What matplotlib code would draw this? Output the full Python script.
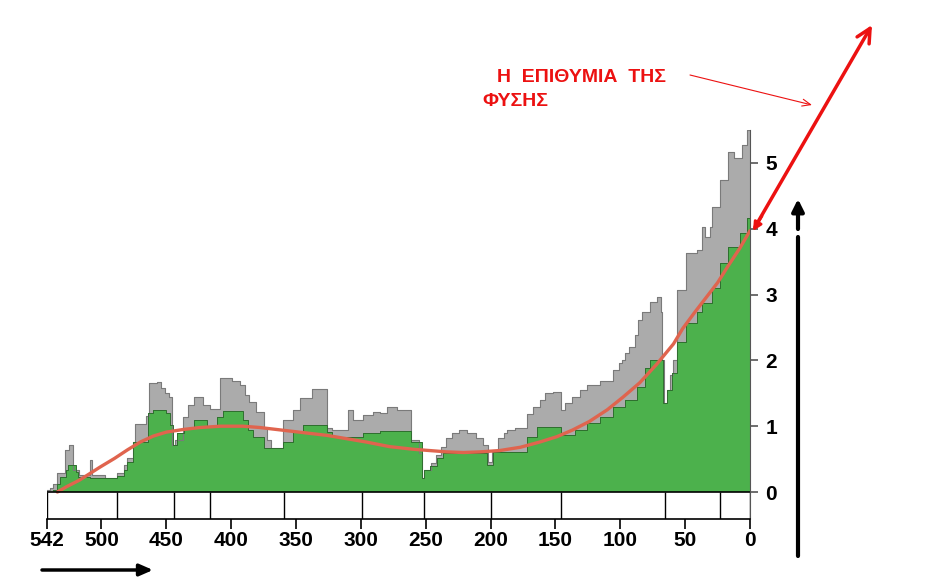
import matplotlib.pyplot as plt

plt.rcParams['font.family'] = ['Liberation Sans', 'DejaVu Sans']

# millions of years ago / value
gray_age = [542, 540, 537, 534, 528, 525, 522, 517, 509, 507, 497, 488, 483, 480, 476, 474,
            466, 463, 457, 454, 451, 448, 446, 443, 437, 433, 429, 422, 416, 409, 399, 393,
            389, 386, 381, 375, 372, 369, 360, 352, 347, 338, 326, 322, 310, 306, 298, 291,
            285, 280, 272, 261, 255, 253, 251, 246, 242, 238, 234, 230, 224, 218, 211, 206,
            202, 199, 194, 190, 187, 181, 172, 167, 162, 158, 152, 146, 143, 137, 131, 126,
            116, 106, 101, 99, 96, 93, 89, 86, 83, 77, 72, 69, 68, 66, 64, 62, 59, 56, 49,
            41, 37, 35, 31, 29, 23, 17, 12, 6, 2, 0]
gray_val = [0.03, 0.06, 0.12, 0.29, 0.64, 0.71, 0.33, 0.26, 0.49, 0.26, 0.21, 0.29, 0.41, 0.52,
            0.76, 1.03, 1.15, 1.66, 1.67, 1.58, 1.50, 1.44, 0.71, 0.79, 1.14, 1.32, 1.44, 1.32,
            1.26, 1.73, 1.69, 1.63, 1.47, 1.37, 1.22, 0.97, 0.79, 0.67, 1.09, 1.25, 1.43, 1.57,
            0.97, 0.94, 1.25, 1.09, 1.17, 1.22, 1.20, 1.29, 1.25, 0.79, 0.59, 0.21, 0.33, 0.44,
            0.56, 0.68, 0.82, 0.90, 0.94, 0.90, 0.82, 0.71, 0.45, 0.64, 0.82, 0.90, 0.94, 0.97,
            1.19, 1.29, 1.40, 1.50, 1.52, 1.25, 1.35, 1.44, 1.55, 1.63, 1.69, 1.85, 1.96, 2.00,
            2.11, 2.20, 2.39, 2.61, 2.74, 2.89, 2.96, 2.74, 2.00, 1.35, 1.55, 1.78, 2.00, 3.07,
            3.63, 3.68, 4.03, 3.88, 4.03, 4.33, 4.74, 5.17, 5.07, 5.27, 5.50, 5.50]

green_age = [537, 534, 532, 527, 526, 520, 518, 509, 488, 483, 480, 476, 464, 460, 450, 447,
             445, 442, 436, 429, 419, 411, 406, 391, 387, 383, 375, 360, 352, 345, 326, 322,
             298, 285, 261, 253, 251, 247, 241, 237, 203, 198, 172, 164, 146, 135, 126, 116,
             106, 96, 87, 81, 77, 67, 64, 60, 56, 49, 41, 37, 29, 23, 17, 8, 2, 0]
green_val = [0.03, 0.12, 0.23, 0.33, 0.41, 0.30, 0.23, 0.21, 0.24, 0.33, 0.46, 0.76, 1.20, 1.25,
             1.20, 1.02, 0.71, 0.90, 0.97, 1.09, 0.99, 1.14, 1.23, 1.09, 0.94, 0.84, 0.67, 0.76,
             0.91, 1.02, 0.91, 0.84, 0.90, 0.92, 0.76, 0.21, 0.33, 0.40, 0.52, 0.59, 0.41, 0.61,
             0.84, 0.99, 0.87, 0.94, 1.05, 1.14, 1.29, 1.40, 1.60, 1.88, 2.00, 1.35, 1.55, 1.81,
             2.28, 2.57, 2.74, 2.87, 3.10, 3.48, 3.72, 3.94, 4.16, 4.16]

trend_age = [534, 527, 517, 509, 501, 490, 480, 470, 460, 450, 437, 424, 408, 391, 378, 365,
             352, 339, 326, 314, 296, 278, 260, 247, 234, 221, 208, 193, 177, 162, 149, 137,
             124, 110, 98, 85, 72, 59, 52, 43, 34, 25, 17, 8, 0]
trend_val = [0.00, 0.08, 0.18, 0.28, 0.38, 0.51, 0.64, 0.76, 0.85, 0.91, 0.95, 0.98, 1.00, 1.00,
             0.98, 0.95, 0.92, 0.89, 0.86, 0.82, 0.76, 0.69, 0.65, 0.63, 0.61, 0.60, 0.61, 0.63,
             0.68, 0.76, 0.84, 0.94, 1.07, 1.25, 1.44, 1.66, 1.94, 2.25, 2.48, 2.72, 2.95, 3.18,
             3.43, 3.70, 3.97]

period_bounds = [542, 488, 444, 416, 359, 299, 251, 200, 146, 65.5, 23, 0]
x_ticks = [542, 500, 450, 400, 350, 300, 250, 200, 150, 100, 50, 0]
y_ticks = [0, 1, 2, 3, 4, 5]

RED = '#ec1111'

W, H = 945, 587
fig = plt.figure(figsize=(W / 100, H / 100), dpi=100)
ax = fig.add_axes([47 / W, 1 - 519 / H, 703 / W, 389 / H])
ax.set_xlim(542, 0)
ax.set_ylim(-0.41, 5.50)

# areas
ax.fill_between(gray_age, gray_val, step='post', color='#ababab', lw=0)
ax.step(gray_age, gray_val, where='post', color='#7a7a7a', lw=0.8)
ax.fill_between(green_age, green_val, step='post', color='#4cb14c', lw=0)
ax.step(green_age, green_val, where='post', color='#2f6e2f', lw=0.7)
ax.plot(trend_age, trend_val, color='#e0644e', lw=2.4, solid_capstyle='round')

# period strip below zero
ax.axhline(0, color='black', lw=1.2)
ax.vlines(period_bounds, -0.41, 0, color='black', lw=1)

for side in ['top', 'left']:
    ax.spines[side].set_visible(False)
ax.spines['right'].set_color('#555555')
ax.spines['bottom'].set_linewidth(1.2)

ax.set_xticks(x_ticks)
ax.set_xticklabels([str(t) for t in x_ticks], fontsize=15, fontweight='bold')
ax.tick_params(axis='x', direction='out', length=7, width=1.2, pad=2)
ax.yaxis.tick_right()
ax.set_yticks(y_ticks)
ax.set_yticklabels([str(t) for t in y_ticks], fontsize=15, fontweight='bold')
ax.tick_params(axis='y', direction='out', length=6, width=1.2, color='#555555', pad=5)


def px(x, y):
    return (x, H - y)


arr = dict(xycoords='figure pixels', textcoords='figure pixels')

# big red arrow
ax.annotate('', xy=px(872, 25), xytext=px(755, 227), **arr,
            arrowprops=dict(arrowstyle='->, head_length=1.0, head_width=0.5',
                            color=RED, lw=2.5, shrinkA=0, shrinkB=0))
ax.annotate('', xy=px(753, 231), xytext=px(762, 216), **arr,
            arrowprops=dict(arrowstyle='-|>, head_length=0.5, head_width=0.25',
                            color=RED, lw=2, shrinkA=0, shrinkB=0))
# thin red pointer
ax.annotate('', xy=px(812, 105), xytext=px(690, 75), **arr,
            arrowprops=dict(arrowstyle='->, head_length=0.6, head_width=0.25',
                            color=RED, lw=0.8, shrinkA=0, shrinkB=0))

fig.text(497 / W, 1 - 77 / H, 'Η  ΕΠΙΘΥΜΙΑ  ΤΗΣ', color=RED, fontsize=14,
         fontweight='bold', va='center', ha='left')
fig.text(482 / W, 1 - 101 / H, 'ΦΥΣΗΣ', color=RED, fontsize=14,
         fontweight='bold', va='center', ha='left')

# black arrows
ax.annotate('', xy=px(153, 570), xytext=px(42, 570), **arr,
            arrowprops=dict(arrowstyle='-|>, head_length=0.8, head_width=0.35',
                            color='black', lw=2.5, shrinkA=0, shrinkB=0))
ax.annotate('', xy=px(798, 237), xytext=px(798, 556), **arr,
            arrowprops=dict(arrowstyle='-', color='black', lw=3, shrinkA=0, shrinkB=0))
ax.annotate('', xy=px(798, 199), xytext=px(798, 229), **arr,
            arrowprops=dict(arrowstyle='-|>, head_length=0.7, head_width=0.35',
                            color='black', lw=3, shrinkA=0, shrinkB=0))

fig.savefig('out.png', dpi=100, facecolor='white')
